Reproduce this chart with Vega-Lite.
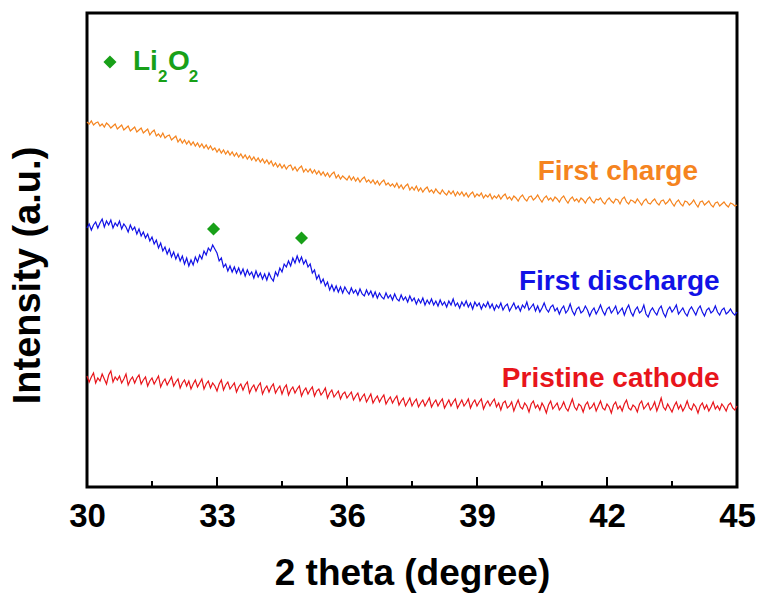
{
  "$schema": "https://vega.github.io/schema/vega-lite/v6.json",
  "width": 650,
  "height": 474,
  "autosize": "none",
  "padding": {"left": 87, "top": 13, "right": 27, "bottom": 107},
  "background": "white",
  "config": {"view": {"stroke": "black", "strokeWidth": 3}, "font": "Liberation Sans"},
  "datasets": {
    "xrd": [
{"x":30.00,"c":365,"d":259,"p":111},{"x":30.05,"c":363,"d":263,"p":105},{"x":30.10,"c":366,"d":257,"p":110},{"x":30.15,"c":362,"d":262,"p":114},{"x":30.20,"c":364,"d":265,"p":104},
{"x":30.25,"c":365,"d":259,"p":109},{"x":30.30,"c":361,"d":264,"p":106},{"x":30.35,"c":363,"d":268,"p":113},{"x":30.40,"c":360,"d":260,"p":108},{"x":30.45,"c":364,"d":266,"p":103},
{"x":30.50,"c":362,"d":262,"p":112},{"x":30.55,"c":359,"d":267,"p":116},{"x":30.60,"c":361,"d":259,"p":105},{"x":30.65,"c":363,"d":264,"p":110},{"x":30.70,"c":358,"d":261,"p":107},
{"x":30.75,"c":360,"d":266,"p":111},{"x":30.80,"c":362,"d":258,"p":104},{"x":30.85,"c":357,"d":263,"p":108},{"x":30.90,"c":359,"d":260,"p":113},{"x":30.95,"c":361,"d":255,"p":102},
{"x":31.00,"c":356,"d":262,"p":107},{"x":31.05,"c":358,"d":257,"p":110},{"x":31.10,"c":360,"d":260,"p":104},{"x":31.15,"c":355,"d":253,"p":109},{"x":31.20,"c":357,"d":258,"p":112},
{"x":31.25,"c":359,"d":251,"p":103},{"x":31.30,"c":354,"d":255,"p":107},{"x":31.35,"c":356,"d":249,"p":110},{"x":31.40,"c":358,"d":253,"p":101},{"x":31.45,"c":352,"d":246,"p":106},
{"x":31.50,"c":355,"d":250,"p":109},{"x":31.55,"c":357,"d":243,"p":103},{"x":31.60,"c":351,"d":247,"p":107},{"x":31.65,"c":353,"d":239,"p":111},{"x":31.70,"c":350,"d":244,"p":100},
{"x":31.75,"c":354,"d":236,"p":105},{"x":31.80,"c":349,"d":240,"p":108},{"x":31.85,"c":351,"d":233,"p":102},{"x":31.90,"c":352,"d":238,"p":106},{"x":31.95,"c":347,"d":230,"p":110},
{"x":32.00,"c":349,"d":235,"p":101},{"x":32.05,"c":351,"d":228,"p":105},{"x":32.10,"c":345,"d":233,"p":108},{"x":32.15,"c":348,"d":226,"p":99},{"x":32.20,"c":344,"d":231,"p":104},
{"x":32.25,"c":347,"d":223,"p":107},{"x":32.30,"c":343,"d":229,"p":101},{"x":32.35,"c":346,"d":221,"p":106},{"x":32.40,"c":342,"d":227,"p":98},{"x":32.45,"c":345,"d":222,"p":103},
{"x":32.50,"c":341,"d":230,"p":107},{"x":32.55,"c":344,"d":225,"p":100},{"x":32.60,"c":340,"d":232,"p":104},{"x":32.65,"c":343,"d":228,"p":108},{"x":32.70,"c":339,"d":236,"p":98},
{"x":32.75,"c":342,"d":232,"p":103},{"x":32.80,"c":338,"d":239,"p":106},{"x":32.85,"c":341,"d":236,"p":99},{"x":32.90,"c":337,"d":242,"p":104},{"x":32.95,"c":339,"d":238,"p":101},
{"x":33.00,"c":335,"d":234,"p":96},{"x":33.05,"c":338,"d":226,"p":103},{"x":33.10,"c":334,"d":229,"p":107},{"x":33.15,"c":337,"d":220,"p":97},{"x":33.20,"c":333,"d":223,"p":102},
{"x":33.25,"c":336,"d":216,"p":105},{"x":33.30,"c":332,"d":221,"p":98},{"x":33.35,"c":335,"d":215,"p":101},{"x":33.40,"c":331,"d":220,"p":104},{"x":33.45,"c":334,"d":214,"p":95},
{"x":33.50,"c":330,"d":219,"p":100},{"x":33.55,"c":333,"d":213,"p":103},{"x":33.60,"c":329,"d":218,"p":97},{"x":33.65,"c":332,"d":211,"p":102},{"x":33.70,"c":328,"d":217,"p":105},
{"x":33.75,"c":331,"d":212,"p":94},{"x":33.80,"c":327,"d":215,"p":99},{"x":33.85,"c":330,"d":209,"p":102},{"x":33.90,"c":326,"d":216,"p":96},{"x":33.95,"c":329,"d":210,"p":101},
{"x":34.00,"c":325,"d":214,"p":104},{"x":34.05,"c":328,"d":208,"p":93},{"x":34.10,"c":324,"d":213,"p":98},{"x":34.15,"c":327,"d":207,"p":101},{"x":34.20,"c":323,"d":214,"p":95},
{"x":34.25,"c":326,"d":209,"p":100},{"x":34.30,"c":321,"d":206,"p":103},{"x":34.35,"c":324,"d":215,"p":94},{"x":34.40,"c":320,"d":211,"p":98},{"x":34.45,"c":323,"d":219,"p":101},
{"x":34.50,"c":319,"d":215,"p":93},{"x":34.55,"c":322,"d":223,"p":99},{"x":34.60,"c":318,"d":220,"p":102},{"x":34.65,"c":321,"d":226,"p":92},{"x":34.70,"c":322,"d":221,"p":97},
{"x":34.75,"c":317,"d":229,"p":100},{"x":34.80,"c":320,"d":224,"p":94},{"x":34.85,"c":316,"d":231,"p":98},{"x":34.90,"c":319,"d":225,"p":101},{"x":34.95,"c":321,"d":230,"p":91},
{"x":35.00,"c":315,"d":223,"p":96},{"x":35.05,"c":318,"d":227,"p":99},{"x":35.10,"c":315,"d":220,"p":93},{"x":35.15,"c":318,"d":223,"p":97},{"x":35.20,"c":314,"d":214,"p":100},
{"x":35.25,"c":317,"d":217,"p":91},{"x":35.30,"c":313,"d":208,"p":96},{"x":35.35,"c":316,"d":212,"p":98},{"x":35.40,"c":312,"d":204,"p":92},{"x":35.45,"c":315,"d":208,"p":95},
{"x":35.50,"c":311,"d":201,"p":99},{"x":35.55,"c":314,"d":205,"p":89},{"x":35.60,"c":310,"d":197,"p":94},{"x":35.65,"c":313,"d":202,"p":97},{"x":35.70,"c":315,"d":196,"p":90},
{"x":35.75,"c":309,"d":201,"p":93},{"x":35.80,"c":312,"d":195,"p":96},{"x":35.85,"c":308,"d":200,"p":88},{"x":35.90,"c":311,"d":194,"p":93},{"x":35.95,"c":309,"d":200,"p":95},
{"x":36.00,"c":307,"d":196,"p":89},{"x":36.05,"c":311,"d":193,"p":92},{"x":36.10,"c":307,"d":199,"p":95},{"x":36.15,"c":310,"d":194,"p":87},{"x":36.20,"c":306,"d":197,"p":91},
{"x":36.25,"c":309,"d":192,"p":94},{"x":36.30,"c":305,"d":198,"p":86},{"x":36.35,"c":308,"d":193,"p":90},{"x":36.40,"c":310,"d":191,"p":93},{"x":36.45,"c":305,"d":197,"p":85},
{"x":36.50,"c":307,"d":192,"p":89},{"x":36.55,"c":304,"d":196,"p":93},{"x":36.60,"c":307,"d":190,"p":84},{"x":36.65,"c":303,"d":195,"p":88},{"x":36.70,"c":306,"d":189,"p":91},
{"x":36.75,"c":302,"d":194,"p":85},{"x":36.80,"c":305,"d":190,"p":89},{"x":36.85,"c":307,"d":188,"p":92},{"x":36.90,"c":302,"d":194,"p":83},{"x":36.95,"c":304,"d":189,"p":87},
{"x":37.00,"c":301,"d":192,"p":90},{"x":37.05,"c":303,"d":187,"p":84},{"x":37.10,"c":300,"d":193,"p":88},{"x":37.15,"c":304,"d":188,"p":91},{"x":37.20,"c":299,"d":186,"p":82},
{"x":37.25,"c":302,"d":192,"p":86},{"x":37.30,"c":298,"d":187,"p":89},{"x":37.35,"c":301,"d":190,"p":81},{"x":37.40,"c":303,"d":185,"p":85},{"x":37.45,"c":297,"d":191,"p":89},
{"x":37.50,"c":300,"d":186,"p":81},{"x":37.55,"c":297,"d":189,"p":85},{"x":37.60,"c":301,"d":183,"p":88},{"x":37.65,"c":296,"d":188,"p":80},{"x":37.70,"c":299,"d":184,"p":84},
{"x":37.75,"c":295,"d":189,"p":87},{"x":37.80,"c":298,"d":182,"p":81},{"x":37.85,"c":300,"d":187,"p":85},{"x":37.90,"c":295,"d":183,"p":89},{"x":37.95,"c":297,"d":188,"p":80},
{"x":38.00,"c":294,"d":182,"p":84},{"x":38.05,"c":298,"d":186,"p":87},{"x":38.10,"c":295,"d":181,"p":81},{"x":38.15,"c":293,"d":187,"p":85},{"x":38.20,"c":297,"d":182,"p":88},
{"x":38.25,"c":294,"d":185,"p":79},{"x":38.30,"c":292,"d":180,"p":83},{"x":38.35,"c":296,"d":186,"p":87},{"x":38.40,"c":293,"d":182,"p":81},{"x":38.45,"c":296,"d":188,"p":85},
{"x":38.50,"c":291,"d":181,"p":88},{"x":38.55,"c":295,"d":184,"p":79},{"x":38.60,"c":292,"d":179,"p":83},{"x":38.65,"c":295,"d":185,"p":87},{"x":38.70,"c":291,"d":181,"p":81},
{"x":38.75,"c":294,"d":186,"p":84},{"x":38.80,"c":290,"d":180,"p":88},{"x":38.85,"c":293,"d":184,"p":79},{"x":38.90,"c":295,"d":178,"p":84},{"x":38.95,"c":290,"d":185,"p":87},
{"x":39.00,"c":293,"d":181,"p":81},{"x":39.05,"c":291,"d":184,"p":85},{"x":39.10,"c":294,"d":178,"p":88},{"x":39.15,"c":289,"d":183,"p":78},{"x":39.20,"c":292,"d":180,"p":83},
{"x":39.25,"c":290,"d":185,"p":86},{"x":39.30,"c":293,"d":179,"p":81},{"x":39.35,"c":288,"d":183,"p":85},{"x":39.40,"c":291,"d":177,"p":88},{"x":39.45,"c":289,"d":182,"p":80},
{"x":39.50,"c":292,"d":179,"p":84},{"x":39.55,"c":288,"d":184,"p":77},{"x":39.60,"c":291,"d":177,"p":84},{"x":39.65,"c":293,"d":181,"p":86},{"x":39.70,"c":288,"d":183,"p":79},
{"x":39.75,"c":290,"d":176,"p":81},{"x":39.80,"c":287,"d":180,"p":85},{"x":39.85,"c":291,"d":184,"p":76},{"x":39.90,"c":289,"d":178,"p":82},{"x":39.95,"c":286,"d":181,"p":87},
{"x":40.00,"c":290,"d":176,"p":80},{"x":40.05,"c":292,"d":182,"p":78},{"x":40.10,"c":288,"d":179,"p":84},{"x":40.15,"c":286,"d":185,"p":81},{"x":40.20,"c":290,"d":177,"p":75},
{"x":40.25,"c":291,"d":180,"p":83},{"x":40.30,"c":287,"d":183,"p":86},{"x":40.35,"c":289,"d":176,"p":79},{"x":40.40,"c":292,"d":181,"p":82},{"x":40.45,"c":288,"d":175,"p":77},
{"x":40.50,"c":285,"d":179,"p":84},{"x":40.55,"c":289,"d":184,"p":80},{"x":40.60,"c":291,"d":178,"p":74},{"x":40.65,"c":287,"d":175,"p":82},{"x":40.70,"c":289,"d":180,"p":86},
{"x":40.75,"c":286,"d":182,"p":78},{"x":40.80,"c":290,"d":176,"p":81},{"x":40.85,"c":288,"d":179,"p":84},{"x":40.90,"c":285,"d":173,"p":77},{"x":40.95,"c":289,"d":178,"p":80},
{"x":41.00,"c":291,"d":181,"p":85},{"x":41.05,"c":287,"d":174,"p":79},{"x":41.10,"c":284,"d":177,"p":76},{"x":41.15,"c":288,"d":183,"p":82},{"x":41.20,"c":290,"d":176,"p":88},
{"x":41.25,"c":286,"d":172,"p":80},{"x":41.30,"c":288,"d":178,"p":77},{"x":41.35,"c":285,"d":180,"p":83},{"x":41.40,"c":289,"d":174,"p":81},{"x":41.45,"c":287,"d":176,"p":75},
{"x":41.50,"c":284,"d":181,"p":82},{"x":41.55,"c":288,"d":177,"p":85},{"x":41.60,"c":290,"d":171,"p":78},{"x":41.65,"c":286,"d":176,"p":80},{"x":41.70,"c":284,"d":179,"p":84},
{"x":41.75,"c":288,"d":173,"p":76},{"x":41.80,"c":287,"d":177,"p":81},{"x":41.85,"c":289,"d":182,"p":86},{"x":41.90,"c":285,"d":176,"p":79},{"x":41.95,"c":283,"d":172,"p":77},
{"x":42.00,"c":287,"d":178,"p":83},{"x":42.05,"c":289,"d":180,"p":80},{"x":42.10,"c":286,"d":174,"p":74},{"x":42.15,"c":284,"d":177,"p":82},{"x":42.20,"c":288,"d":181,"p":85},
{"x":42.25,"c":287,"d":173,"p":78},{"x":42.30,"c":283,"d":176,"p":81},{"x":42.35,"c":288,"d":179,"p":76},{"x":42.40,"c":290,"d":172,"p":83},{"x":42.45,"c":285,"d":178,"p":87},
{"x":42.50,"c":283,"d":182,"p":79},{"x":42.55,"c":287,"d":175,"p":77},{"x":42.60,"c":286,"d":171,"p":82},{"x":42.65,"c":284,"d":177,"p":80},{"x":42.70,"c":288,"d":180,"p":75},
{"x":42.75,"c":285,"d":174,"p":83},{"x":42.80,"c":282,"d":176,"p":86},{"x":42.85,"c":286,"d":182,"p":78},{"x":42.90,"c":288,"d":173,"p":81},{"x":42.95,"c":284,"d":170,"p":84},
{"x":43.00,"c":283,"d":176,"p":77},{"x":43.05,"c":286,"d":179,"p":80},{"x":43.10,"c":288,"d":175,"p":85},{"x":43.15,"c":284,"d":172,"p":76},{"x":43.20,"c":282,"d":178,"p":82},
{"x":43.25,"c":286,"d":181,"p":89},{"x":43.30,"c":287,"d":174,"p":80},{"x":43.35,"c":283,"d":170,"p":77},{"x":43.40,"c":285,"d":177,"p":83},{"x":43.45,"c":288,"d":180,"p":79},
{"x":43.50,"c":284,"d":175,"p":75},{"x":43.55,"c":281,"d":178,"p":81},{"x":43.60,"c":285,"d":182,"p":85},{"x":43.65,"c":287,"d":173,"p":78},{"x":43.70,"c":283,"d":176,"p":82},
{"x":43.75,"c":281,"d":179,"p":76},{"x":43.80,"c":286,"d":174,"p":80},{"x":43.85,"c":285,"d":171,"p":86},{"x":43.90,"c":282,"d":177,"p":79},{"x":43.95,"c":284,"d":180,"p":77},
{"x":44.00,"c":287,"d":176,"p":83},{"x":44.05,"c":283,"d":172,"p":80},{"x":44.10,"c":280,"d":178,"p":74},{"x":44.15,"c":285,"d":181,"p":81},{"x":44.20,"c":286,"d":175,"p":84},
{"x":44.25,"c":282,"d":171,"p":78},{"x":44.30,"c":284,"d":177,"p":82},{"x":44.35,"c":286,"d":179,"p":76},{"x":44.40,"c":282,"d":174,"p":80},{"x":44.45,"c":280,"d":176,"p":85},
{"x":44.50,"c":284,"d":181,"p":78},{"x":44.55,"c":285,"d":175,"p":81},{"x":44.60,"c":281,"d":172,"p":77},{"x":44.65,"c":283,"d":177,"p":83},{"x":44.70,"c":285,"d":179,"p":80},
{"x":44.75,"c":282,"d":173,"p":76},{"x":44.80,"c":280,"d":175,"p":82},{"x":44.85,"c":284,"d":178,"p":84},{"x":44.90,"c":283,"d":174,"p":79},{"x":44.95,"c":281,"d":172,"p":77},
{"x":45.00,"c":282,"d":175,"p":81}
    ],
    "majorTicks": [{"x":30},{"x":33},{"x":36},{"x":39},{"x":42},{"x":45}],
    "minorTicks": [{"x":31.5},{"x":34.5},{"x":37.5},{"x":40.5},{"x":43.5}],
    "diamonds": [
      {"x":32.92,"y":258,"k":"g"},
      {"x":34.95,"y":249,"k":"g"},
      {"x":30.53,"y":425,"k":"g"}
    ],
    "labels": [
      {"x":44.1,"y":307,"t":"First charge","k":"c"},
      {"x":44.6,"y":197,"t":"First discharge","k":"d"},
      {"x":44.6,"y":100,"t":"Pristine cathode","k":"p"}
    ],
    "chem": [
      {"x":31.06,"y":417,"t":"Li","k":"g"},
      {"x":31.87,"y":417,"t":"O","k":"g"}
    ],
    "subs": [
      {"x":31.64,"y":405,"t":"2","k":"g"},
      {"x":32.35,"y":405,"t":"2","k":"g"}
    ]
  },
  "layer": [
    {
      "data": {"name": "xrd"},
      "transform": [{"fold": ["c", "d", "p"], "as": ["k", "y"]}],
      "mark": {"type": "line", "strokeWidth": 1.2},
      "encoding": {
        "x": {
          "field": "x", "type": "quantitative",
          "scale": {"domain": [30, 45], "nice": false, "zero": false},
          "axis": {
            "title": "2 theta (degree)",
            "values": [30, 33, 36, 39, 42, 45],
            "grid": false, "domain": false, "ticks": false,
            "labelFontSize": 33, "labelFontWeight": "bold", "labelColor": "black",
            "labelPadding": 13, "labelFlush": false, "labelOverlap": false,
            "titleFontSize": 37, "titleFontWeight": "bold", "titleColor": "black",
            "titlePadding": 22
          }
        },
        "y": {
          "field": "y", "type": "quantitative",
          "scale": {"domain": [0, 474], "nice": false, "zero": false},
          "axis": {
            "title": "Intensity (a.u.)",
            "labels": false, "ticks": false, "grid": false, "domain": false,
            "titleFontSize": 38, "titleFontWeight": "bold", "titleColor": "black",
            "titlePadding": 40, "titleY": 262
          }
        },
        "color": {
          "field": "k", "type": "nominal",
          "scale": {"domain": ["c", "d", "p", "g"], "range": ["#f5841f", "#1212e6", "#e8151b", "#18a018"]},
          "legend": null
        }
      }
    },
    {
      "data": {"name": "majorTicks"},
      "mark": {"type": "rule", "strokeWidth": 2, "color": "black"},
      "encoding": {
        "x": {"field": "x", "type": "quantitative"},
        "y": {"datum": 0},
        "y2": {"datum": 10}
      }
    },
    {
      "data": {"name": "minorTicks"},
      "mark": {"type": "rule", "strokeWidth": 2, "color": "black"},
      "encoding": {
        "x": {"field": "x", "type": "quantitative"},
        "y": {"datum": 0},
        "y2": {"datum": 6}
      }
    },
    {
      "data": {"name": "diamonds"},
      "mark": {"type": "point", "shape": "diamond", "filled": true, "size": 170, "opacity": 1},
      "encoding": {
        "x": {"field": "x", "type": "quantitative"},
        "y": {"field": "y", "type": "quantitative"},
        "color": {"field": "k", "type": "nominal", "legend": null}
      }
    },
    {
      "data": {"name": "labels"},
      "mark": {"type": "text", "align": "right", "baseline": "alphabetic", "fontSize": 28, "fontWeight": "bold"},
      "encoding": {
        "x": {"field": "x", "type": "quantitative"},
        "y": {"field": "y", "type": "quantitative"},
        "text": {"field": "t"},
        "color": {"field": "k", "type": "nominal", "legend": null}
      }
    },
    {
      "data": {"name": "chem"},
      "mark": {"type": "text", "align": "left", "baseline": "alphabetic", "fontSize": 28, "fontWeight": "bold"},
      "encoding": {
        "x": {"field": "x", "type": "quantitative"},
        "y": {"field": "y", "type": "quantitative"},
        "text": {"field": "t"},
        "color": {"field": "k", "type": "nominal", "legend": null}
      }
    },
    {
      "data": {"name": "subs"},
      "mark": {"type": "text", "align": "left", "baseline": "alphabetic", "fontSize": 17, "fontWeight": "bold"},
      "encoding": {
        "x": {"field": "x", "type": "quantitative"},
        "y": {"field": "y", "type": "quantitative"},
        "text": {"field": "t"},
        "color": {"field": "k", "type": "nominal", "legend": null}
      }
    }
  ]
}
